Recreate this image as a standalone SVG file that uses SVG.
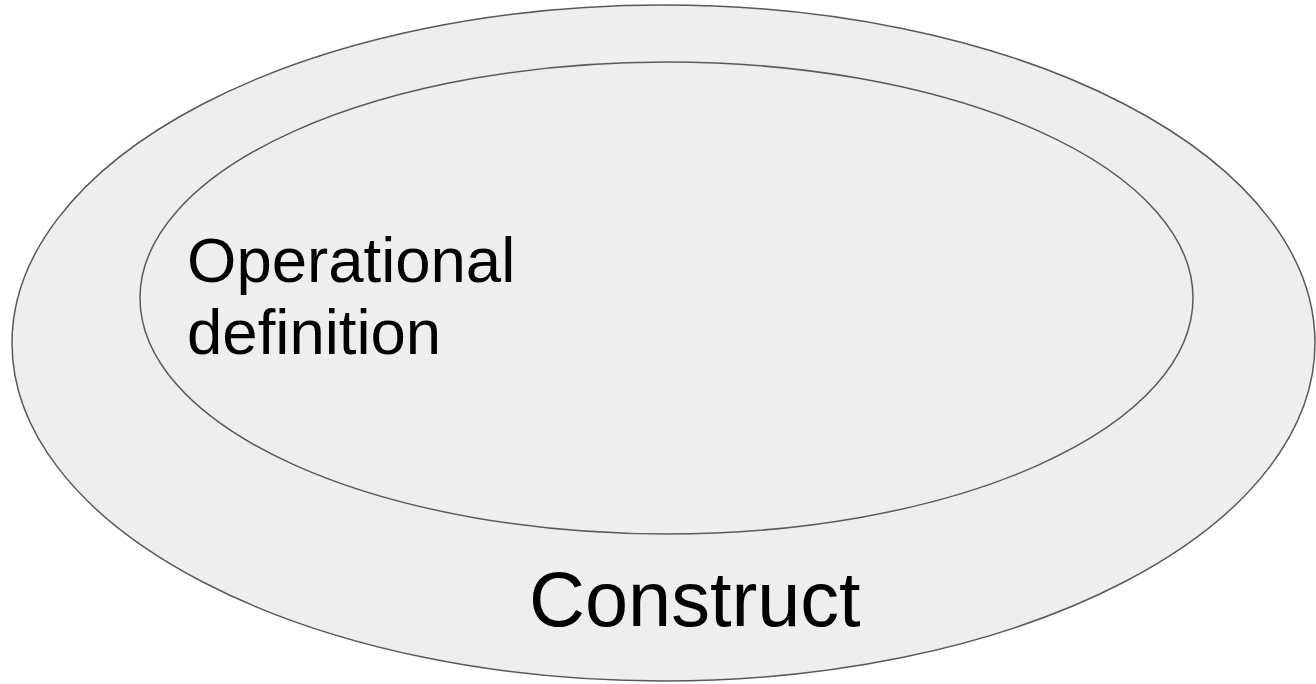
<svg xmlns="http://www.w3.org/2000/svg" width="1316" height="684" viewBox="0 0 1316 684">
<style>
.shape{fill:#eeeeee;stroke:#595959;stroke-width:1.5}
.lbl{font-family:"Liberation Sans",Arial,sans-serif;fill:#000000}
</style>
<rect width="1316" height="684" fill="#ffffff"/>
<g id="construct">
<ellipse class="shape" cx="663.5" cy="343" rx="651.5" ry="338"/>
<text class="lbl" x="529" y="626" font-size="77.5">Construct</text>
</g>
<g id="operational-definition">
<ellipse class="shape" cx="666.5" cy="298" rx="526.5" ry="236"/>
<text class="lbl" x="187" y="282" font-size="63.5">Operational</text>
<text class="lbl" x="187" y="354" font-size="63.5">definition</text>
</g>
<g id="connectors"></g>
</svg>
